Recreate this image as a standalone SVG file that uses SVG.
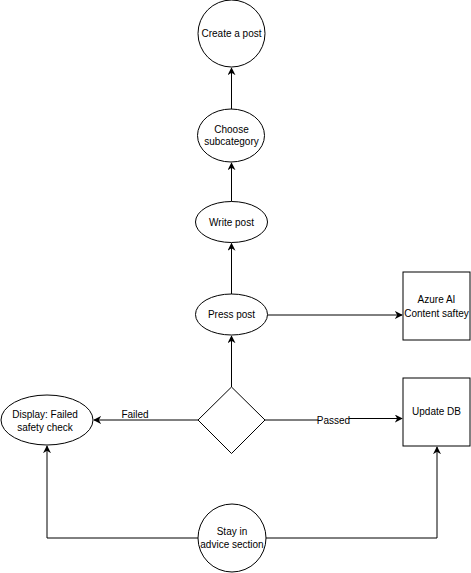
<svg xmlns="http://www.w3.org/2000/svg" width="471" height="573" viewBox="0 0 471 573">
<style>
.n{fill:#fff;stroke:#000;stroke-width:1}
.t{font-family:"Liberation Sans",Arial,sans-serif;font-size:10px;fill:#000;text-anchor:middle;dominant-baseline:central}
.e{fill:none;stroke:#000;stroke-width:1}
</style>
<defs>
<marker id="a" viewBox="0 0 10 10" refX="9" refY="5" markerWidth="8" markerHeight="8" markerUnits="userSpaceOnUse" orient="auto">
<path d="M0,0 L10,5 L0,10 L3,5 Z" fill="#000"/>
</marker>
</defs>
<rect width="471" height="573" fill="#fff"/>
<g id="connectors">
<path class="e" d="M231.5,109 V68" marker-end="url(#a)"/>
<path class="e" d="M231.5,201.5 V163" marker-end="url(#a)"/>
<path class="e" d="M231.5,294 V243.5" marker-end="url(#a)"/>
<path class="e" d="M267.5,315 H402" marker-end="url(#a)"/>
<path class="e" d="M231.5,387 V336" marker-end="url(#a)"/>
<path class="e" d="M198,420 H94" marker-end="url(#a)"/>
<path class="e" d="M265,420 H333 V418.5 H402" marker-end="url(#a)"/>
<path class="e" d="M198,538 H47 V446" marker-end="url(#a)"/>
<path class="e" d="M266,538 H437 V447" marker-end="url(#a)"/>
<rect x="318" y="414" width="31" height="12" fill="#fff"/>
<text class="t" x="333.5" y="420">Passed</text>
<text class="t" x="135" y="414">Failed</text>
</g>
<g id="create-post">
<circle class="n" cx="231.5" cy="33.5" r="33.5"/>
<text class="t" x="231.5" y="33.5">Create a post</text>
</g>
<g id="choose-subcategory">
<ellipse class="n" cx="231" cy="135.5" rx="33.5" ry="26.5"/>
<text class="t" x="231.5" y="129">Choose</text>
<text class="t" x="231.5" y="141.5">subcategory</text>
</g>
<g id="write-post">
<ellipse class="n" cx="231.5" cy="222" rx="36" ry="20.5"/>
<text class="t" x="231.5" y="222">Write post</text>
</g>
<g id="press-post">
<ellipse class="n" cx="231.5" cy="314.5" rx="36" ry="20.5"/>
<text class="t" x="231.5" y="314.5">Press post</text>
</g>
<g id="azure">
<rect class="n" x="403" y="272" width="67" height="68"/>
<text class="t" x="436.5" y="299.5">Azure AI</text>
<text class="t" x="436.5" y="313">Content saftey</text>
</g>
<g id="decision">
<polygon class="n" points="231.5,387 265,420 231.5,453.5 198,420"/>
</g>
<g id="update-db">
<rect class="n" x="403" y="378" width="67" height="68"/>
<text class="t" x="436.5" y="411">Update DB</text>
</g>
<g id="display-failed">
<ellipse class="n" cx="47" cy="420" rx="46" ry="25"/>
<text class="t" x="45" y="414">Display: Failed</text>
<text class="t" x="45" y="427">safety check</text>
</g>
<g id="stay-advice">
<circle class="n" cx="232" cy="538" r="34"/>
<text class="t" x="232" y="531">Stay in</text>
<text class="t" x="232" y="544.5">advice section</text>
</g>
</svg>
